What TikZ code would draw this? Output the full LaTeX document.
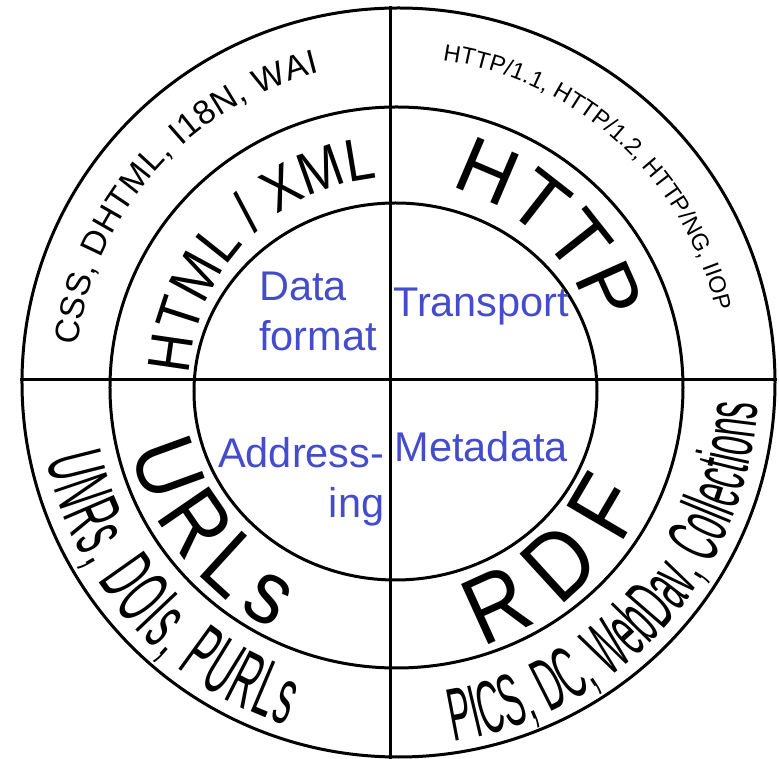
\documentclass[tikz,border=0pt]{standalone}
\usepackage{fontspec}
\setmainfont{Liberation Sans}
\newfontfamily\narrowfont[FakeStretch=0.45]{Liberation Sans}
\newfontfamily\tallfont[FakeStretch=0.88]{Liberation Sans}
\usetikzlibrary{decorations.text,shapes.geometric}
\definecolor{areablue}{RGB}{68,76,204}
\newcommand\areafont{\fontsize{41.5}{50}\selectfont}
\newcommand\protofont{\fontsize{80}{80}\selectfont}
\newcommand\urlsfont{\tallfont\fontsize{90}{90}\selectfont}
\newcommand\xmlfont{\tallfont\fontsize{60}{60}\selectfont}
\newcommand\rdffont{\tallfont\fontsize{96}{96}\selectfont}
\newcommand\cssfont{\fontsize{34}{34}\selectfont}
\newcommand\verfont{\fontsize{23.5}{24}\selectfont}
\newcommand\urnfont{\narrowfont\fontsize{80}{80}\selectfont}
\newcommand\picsfont{\narrowfont\fontsize{75}{75}\selectfont}

\begin{document}
\begin{tikzpicture}[x=1pt, y=1pt,
    ring/.style={draw, ellipse, line width=3pt, inner sep=0pt},
    area/.style={text=areablue, font=\areafont, inner sep=0pt, align=#1},
    arctext/.style={decorate, decoration={text along path, text align={fit to path}, text={#1}}}]
  \useasboundingbox (-391,-379) rectangle (388,380);
  \coordinate (c) at (0,0);
  \node[ring, minimum width=753pt, minimum height=749pt] (outer) at (7.5,-2.5) {};
  \node[ring, minimum width=573pt, minimum height=561pt] (middle) at (5.5,-7.5) {};
  \node[ring, minimum width=403pt, minimum height=377pt] (inner) at (4.5,-11.5) {};
  \draw[line width=3pt] (outer.north -| c) -- (outer.south -| c);
  \draw[line width=3pt] (outer.west |- c) -- (outer.east |- c);
  \node[area=left, anchor=base west] (data) at (-132,29.5) {Data\\format};
  \node[area=left, anchor=base west] (transport) at (2,63.5) {Transport};
  \node[area=right, anchor=base east] (addressing) at (-6.5,-137.5) {Address-\\ing};
  \node[area=left, anchor=base west] (metadata) at (3.5,-81.5) {Metadata};
  \begin{scope}[shift={(6,-5)}]
    \path[arctext={|\cssfont|CSS, DHTML, I18N, WAI}] (173:322) arc[start angle=173, end angle=104, radius=322];
    \path[arctext={|\verfont|HTTP/1.1, HTTP/1.2, HTTP/NG, IIOP}] (82:328) arc[start angle=82, end angle=13, radius=328];
    \path[arctext={|\xmlfont|HTML / XML}] (177:208) arc[start angle=177, end angle=98, radius=208];
    \path[arctext={|\protofont|HTTP}] (75:205) arc[start angle=75, end angle=17, radius=205];
    \path[arctext={|\urlsfont|URLs}] (194:274) arc[start angle=194, end angle=243, radius=274];
    \path[arctext={|\rdffont|RDF}] (288:274) arc[start angle=288, end angle=335, radius=274];
    \path[arctext={|\urnfont|UNRs, DOIs, PURLs}] (192:358) arc[start angle=192, end angle=252, radius=358];
    \path[arctext={|\picsfont|PICS, DC, WebDav, Collections}] (279:361) arc[start angle=279, end angle=357, radius=361];
  \end{scope}
\end{tikzpicture}
\end{document}
